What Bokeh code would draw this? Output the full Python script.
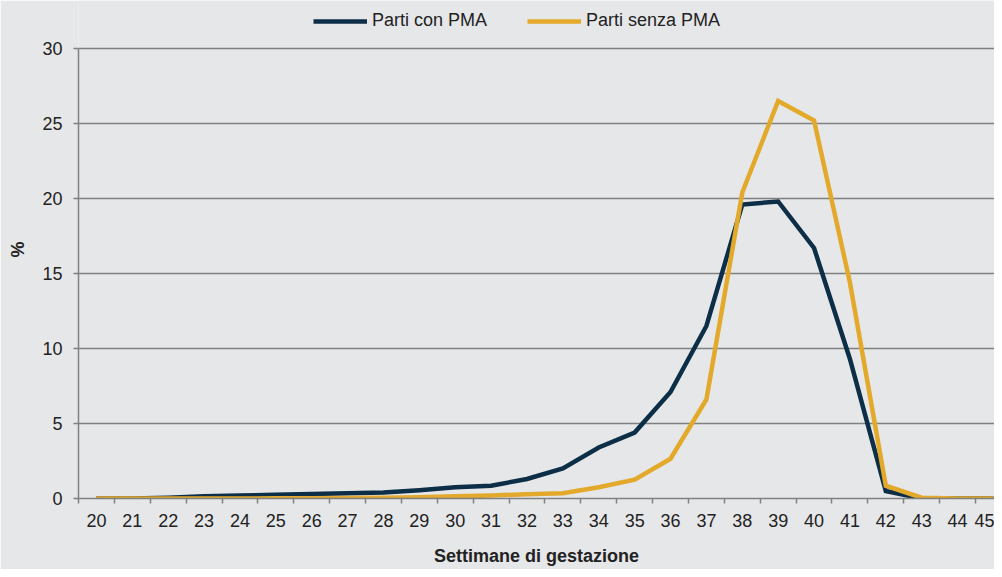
from bokeh.plotting import figure
from bokeh.models import FixedTicker, Range1d, Legend, LegendItem
from bokeh.embed import file_html
from bokeh.resources import INLINE

weeks = list(range(20, 46))
week_labels = [str(w) for w in weeks]
con_pma = [0, 0, 0.05, 0.15, 0.2, 0.25, 0.3, 0.35, 0.4, 0.55, 0.75, 0.85, 1.3, 2.0, 3.4, 4.4,
           7.1, 11.5, 19.6, 19.8, 16.7, 9.3, 0.5, 0, 0, 0]
senza_pma = [0, 0, 0, 0, 0, 0.01, 0.02, 0.03, 0.05, 0.08, 0.15, 0.2, 0.28, 0.35, 0.75, 1.26,
             2.65, 6.6, 20.4, 26.5, 25.2, 14.4, 0.85, 0.05, 0, 0]
y_ticks = [0, 5, 10, 15, 20, 25, 30]

BG = "#e6e7e9"
GRID = "#808080"
NAVY = "#0c2e47"
YELLOW = "#e3a92a"
FONT = "Liberation Sans"

W, H = 994, 569
LEFT, RIGHT, BOTTOM = 78, 0, 71
TOP_PAD = 48          # room above the 30% line, kept inside the frame for the legend
CAT_W = 35.88
x_end = 19.5 + (W - LEFT - RIGHT) / CAT_W
frame_h = H - BOTTOM
y_max = y_ticks[-1]
y_end = y_max * frame_h / (frame_h - TOP_PAD)

p = figure(width=W, height=H, output_backend="svg", toolbar_location=None,
           x_range=Range1d(19.5, x_end), y_range=Range1d(0, y_end),
           min_border_left=LEFT, min_border_right=RIGHT, min_border_top=0,
           min_border_bottom=BOTTOM,
           background_fill_color=BG, border_fill_color=BG)
p.outline_line_color = None

r1 = p.line(weeks, con_pma, line_color=NAVY, line_width=4.5, line_join="miter")
r2 = p.line(weeks, senza_pma, line_color=YELLOW, line_width=4.5, line_join="miter")

# x axis
xa = p.xaxis[0]
xa.ticker = FixedTicker(ticks=weeks, minor_ticks=[w - 0.5 for w in weeks] + [45.5])
xa.major_label_overrides = {w: l for w, l in zip(weeks, week_labels)}
xa.major_tick_line_color = None
xa.minor_tick_line_color = GRID
xa.minor_tick_line_width = 1.5
xa.minor_tick_out = 5
xa.minor_tick_in = 0
xa.axis_line_color = GRID
xa.axis_line_width = 1.5
xa.major_label_text_font = FONT
xa.major_label_text_font_size = "18px"
xa.major_label_text_color = "#222222"
xa.major_label_standoff = 9
xa.axis_label = "Settimane di gestazione"
xa.axis_label_text_font = FONT
xa.axis_label_text_font_size = "18px"
xa.axis_label_text_font_style = "bold"
xa.axis_label_text_color = "#222222"
xa.axis_label_standoff = 16

# y axis
ya = p.yaxis[0]
ya.ticker = FixedTicker(ticks=y_ticks)
ya.bounds = (0, y_max)
ya.minor_tick_line_color = None
ya.major_tick_line_color = GRID
ya.major_tick_line_width = 1.5
ya.major_tick_out = 5
ya.major_tick_in = 0
ya.axis_line_color = GRID
ya.axis_line_width = 1.5
ya.major_label_text_font = FONT
ya.major_label_text_font_size = "18px"
ya.major_label_text_color = "#222222"
ya.major_label_standoff = 11
ya.axis_label = "%"
ya.axis_label_text_font = FONT
ya.axis_label_text_font_size = "18px"
ya.axis_label_text_font_style = "bold"
ya.axis_label_text_color = "#222222"
ya.axis_label_standoff = 11

p.xgrid.grid_line_color = None
p.ygrid.grid_line_color = GRID
p.ygrid.grid_line_width = 1.5

lg = Legend(items=[LegendItem(label="Parti con PMA", renderers=[r1]),
                   LegendItem(label="Parti senza PMA", renderers=[r2])])
lg.orientation = "horizontal"
lg.location = (235, frame_h - 31)
lg.background_fill_alpha = 0
lg.border_line_color = None
lg.padding = 0
lg.margin = 0
lg.spacing = 40
lg.glyph_width = 54
lg.glyph_height = 20
lg.label_standoff = 5
lg.label_text_font = FONT
lg.label_text_font_size = "18px"
lg.label_text_color = "#222222"
p.add_layout(lg, "center")

open("out.html", "w").write(file_html(p, INLINE))
